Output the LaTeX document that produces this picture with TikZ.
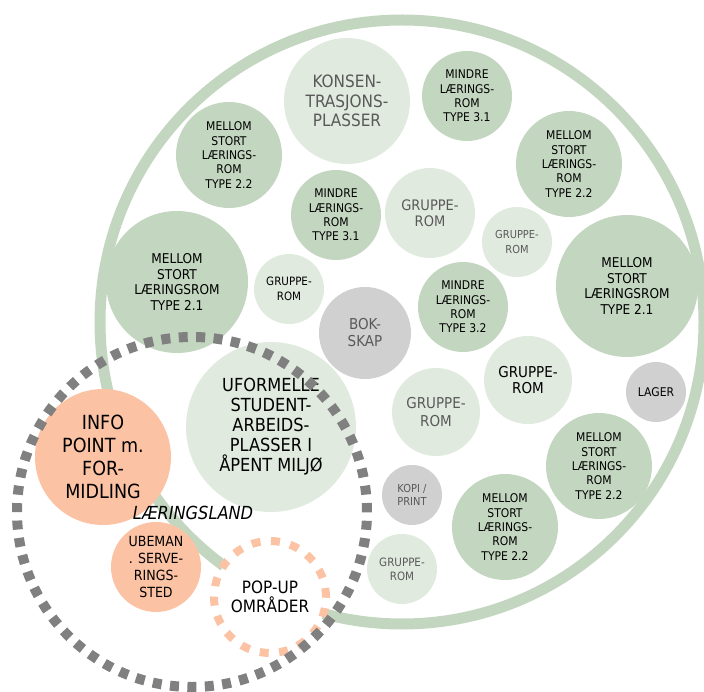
\documentclass[tikz,border=0pt]{standalone}
\usepackage{fontspec}
\setmainfont{DejaVu Sans Condensed}
\usepackage{tikz}

\definecolor{midgreen}{RGB}{195,215,192}
\definecolor{lightgreen}{RGB}{224,234,223}
\definecolor{storegray}{RGB}{208,208,208}
\definecolor{salmon}{RGB}{251,194,164}
\definecolor{dotgray}{RGB}{128,128,128}
\definecolor{textgray}{RGB}{89,89,89}

\begin{document}
\begin{tikzpicture}[x=1pt, y=-1pt,
  room/.style={circle, inner sep=0pt, outer sep=0pt, align=center},
  rad/.style={minimum size=2*#1pt},
  txt/.style 2 args={font=\fontsize{#1}{#2}\selectfont},
  mid/.style={room, fill=midgreen, txt={12}{14.4}},
  light/.style={room, fill=lightgreen},
  store/.style={room, fill=storegray},
  info/.style={room, fill=salmon},
  popup/.style={room, fill=white, draw=salmon, line width=8pt, dash pattern=on 9pt off 10.5pt},
  landring/.style={circle, inner sep=0pt, draw=dotgray, line width=10pt, dash pattern=on 9pt off 8.45pt}]
\useasboundingbox (0,0) rectangle (704,692);
\node[circle, inner sep=0pt, draw=midgreen, line width=11pt, rad=302] (campus) at (402,322) {};
\node[light, rad=63, txt={17}{19.5}, text=textgray] (konsen) at (347,101) {KONSEN-\\TRASJONS-\\PLASSER};
\node[mid, rad=45] (mindreA) at (467,96) {MINDRE\\LÆRINGS-\\ROM\\TYPE 3.1};
\node[mid, rad=53] (mellomA) at (229,155) {MELLOM\\STORT\\LÆRINGS-\\ROM\\TYPE 2.2};
\node[mid, rad=53] (mellomB) at (569,164) {MELLOM\\STORT\\LÆRINGS-\\ROM\\TYPE 2.2};
\node[mid, rad=45] (mindreB) at (336,215) {MINDRE\\LÆRINGS-\\ROM\\TYPE 3.1};
\node[light, rad=45, txt={14.5}{16}, text=textgray] (gruppeA) at (430,213) {GRUPPE-\\ROM};
\node[light, rad=35, txt={11}{14.5}, text=textgray] (gruppeB) at (517,242) {GRUPPE-\\ROM};
\node[mid, rad=71, txt={13.5}{15.7}] (storA) at (177,282) {MELLOM\\STORT\\LÆRINGSROM\\TYPE 2.1};
\node[mid, rad=71, txt={13.5}{15.7}] (storB) at (627,286) {MELLOM\\STORT\\LÆRINGSROM\\TYPE 2.1};
\node[light, rad=35, txt={11.5}{14.5}] (gruppeC) at (289,289) {GRUPPE-\\ROM};
\node[store, rad=46, txt={15}{17}, text=textgray] (bokskap) at (365,333) {BOK-\\SKAP};
\node[mid, rad=45] (mindreC) at (463,307) {MINDRE\\LÆRINGS-\\ROM\\TYPE 3.2};
\node[light, rad=85, txt={18}{20}] (uformelle) at (271,427) {UFORMELLE\\STUDENT-\\ARBEIDS-\\PLASSER I\\ÅPENT MILJØ};
\node[light, rad=44, txt={15}{17.5}, text=textgray] (gruppeD) at (436,412) {GRUPPE-\\ROM};
\node[light, rad=44, txt={15}{16.5}] (gruppeE) at (528,380) {GRUPPE-\\ROM};
\node[store, rad=30, txt={12}{14}] (lager) at (656,392) {LAGER};
\node[mid, rad=53] (mellomC) at (599,466) {MELLOM\\STORT\\LÆRINGS-\\ROM\\TYPE 2.2};
\node[mid, rad=53] (mellomD) at (505,527) {MELLOM\\STORT\\LÆRINGS-\\ROM\\TYPE 2.2};
\node[store, rad=30, txt={11}{13.7}, text=textgray] (kopi) at (412,495) {KOPI /\\PRINT};
\node[light, rad=35, txt={11.5}{14}, text=textgray] (gruppeF) at (402,569) {GRUPPE-\\ROM};
\node[info, rad=68, txt={19.5}{23}] (infopoint) at (103,457) {INFO\\POINT m.\\FOR-\\MIDLING};
\node[info, rad=45, txt={14}{17}] (ubeman) at (156,567) {UBEMAN\\. SERVE-\\RINGS-\\STED};
\node[popup, rad=56, txt={17}{19}] (popupomr) at (270,597) {POP-UP\\OMRÅDER};
\node[font={\fontsize{18}{20}\selectfont\itshape}, inner sep=0pt] (landlabel) at (193,513) {LÆRINGSLAND};
\node[landring, rad=175] (laeringsland) at (192,512) {};
\end{tikzpicture}
\end{document}
